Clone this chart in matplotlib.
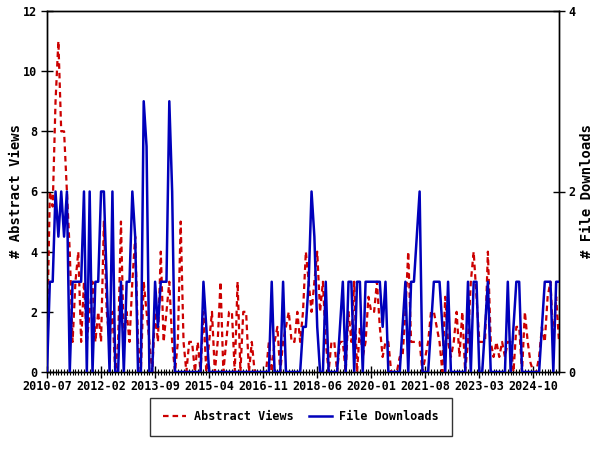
import matplotlib
matplotlib.use("Agg")
import matplotlib.pyplot as plt
from matplotlib.ticker import MultipleLocator, FixedLocator
from matplotlib.lines import Line2D

start_year, start_month = 2010, 7

abstract_views = [
    1, 6, 5.5, 9, 11, 8, 8, 6, 4, 1,
    3, 4, 1, 3, 1, 2, 3, 1, 2, 1,
    5, 2, 1, 2, 0, 1, 5, 1, 2, 1,
    3, 4.5, 1, 0, 3, 2, 1, 0, 2, 1,
    4, 1, 2, 3, 1, 0, 1, 5, 1, 0,
    1, 1, 0, 1, 0, 2, 0, 1, 2, 0,
    1, 3, 0, 1, 2, 2, 0, 3, 0, 2,
    2, 0, 1, 0, 0, 0, 0, 0, 1, 0,
    1, 1.5, 0, 1, 1.5, 2, 1, 1, 2, 1,
    2, 4, 3, 2, 3, 4, 2, 3, 1, 0,
    1, 1, 0, 1, 1, 0, 2, 1, 3, 0,
    1.5, 0.5, 1, 2.5, 2, 2, 3, 1.5, 0.5, 1,
    1, 0, 0, 0, 0.5, 0.5, 2, 4, 1, 1,
    1, 1, 0, 0.5, 1, 2, 2, 1.5, 1, 0,
    2.5, 1, 0.5, 1, 2, 0.5, 2, 0, 1, 3,
    4, 2.5, 1, 1, 1, 4, 1, 0.5, 1, 0.5,
    1, 0.5, 1, 1, 0, 1.5, 1.5, 0, 2, 1,
    0.3, 0, 0, 0.5, 1.5, 1, 2.5, 3, 1, 2.5,
    1,
]

file_downloads = [
    0, 1, 1, 2, 1.5, 2, 1.5, 2, 0, 1,
    1, 1, 1, 2, 0, 2, 0, 1, 1, 2,
    2, 1, 0, 2, 0, 0, 1, 0, 1, 1,
    2, 1.5, 0, 0, 3, 2.5, 0, 0, 1, 0.5,
    1, 1, 1, 3, 2, 0, 0, 0, 0, 0,
    0, 0, 0, 0, 0, 1, 0.5, 0, 0, 0,
    0, 0, 0, 0, 0, 0, 0, 0, 0, 0,
    0, 0, 0, 0, 0, 0, 0, 0, 0, 1,
    0, 0, 0, 1, 0, 0, 0, 0, 0, 0,
    0.5, 0.5, 1, 2, 1.5, 0.5, 0, 0, 1, 0,
    0, 0, 0, 0.5, 1, 0, 1, 1, 0, 1,
    1, 0, 1, 1, 1, 1, 1, 1, 0.5, 1,
    0, 0, 0, 0, 0, 0.5, 1, 0, 1, 1,
    1.5, 2, 0, 0, 0, 0.5, 1, 1, 1, 0.5,
    0, 1, 0, 0, 0, 0, 0, 0, 1, 0,
    1, 1, 0, 0, 0.5, 1, 0, 0, 0, 0,
    0, 0, 1, 0, 0.5, 1, 1, 0, 0, 0,
    0, 0, 0, 0, 0.5, 1, 1, 1, 0, 1,
    1,
]

tick_labels = ["2010-07", "2012-02", "2013-09", "2015-04", "2016-11",
               "2018-06", "2020-01", "2021-08", "2023-03", "2024-10"]

n = len(abstract_views)
x = list(range(n))
tick_pos = list(range(0, n, 19))[:len(tick_labels)]

FONT = "DejaVu Sans Mono"
RED = "#cc0000"
BLUE = "#0000bb"

fig = plt.figure(figsize=(6, 4.5), dpi=100)
ax = fig.add_axes([47/600, 1-372/450, (559-47)/600, (372-11)/450])
ax2 = ax.twinx()

ax.plot(x, abstract_views, color=RED, lw=1.6, ls=(0, (2.5, 1.8)), zorder=3)
ax2.plot(x, file_downloads, color=BLUE, lw=1.8, zorder=3)

ax.set_xlim(0, n - 1)
ax.set_ylim(0, 12)
ax2.set_ylim(0, 4)
ax.yaxis.set_major_locator(MultipleLocator(2))
ax2.yaxis.set_major_locator(MultipleLocator(2))
ax.xaxis.set_major_locator(FixedLocator(tick_pos))
ax.xaxis.set_minor_locator(MultipleLocator(1))
ax.set_xticklabels(tick_labels)

for a in (ax, ax2):
    for s in a.spines.values():
        s.set_linewidth(1.0)
        s.set_color("black")
    a.tick_params(which="major", direction="inout", length=8, width=1,
                  labelsize=8.5)
    a.tick_params(which="minor", direction="inout", length=4, width=0.8)
    for lab in a.get_xticklabels() + a.get_yticklabels():
        lab.set_fontfamily(FONT)
        lab.set_fontweight("bold")
ax.tick_params(axis="x", which="major", pad=2)
ax.tick_params(axis="y", which="major", pad=3)
ax2.tick_params(axis="y", which="major", pad=3)

ax.set_ylabel("# Abstract Views", fontfamily=FONT, fontsize=10,
              fontweight="bold", labelpad=0)
ax2.set_ylabel("# File Downloads", fontfamily=FONT, fontsize=10,
               fontweight="bold", labelpad=3)

handles = [Line2D([], [], color=RED, lw=1.6, ls=(0, (2.5, 1.8))),
           Line2D([], [], color=BLUE, lw=1.8)]
leg = fig.legend(handles, ["Abstract Views", "File Downloads"],
                 loc="center", bbox_to_anchor=(301/600, 1-417/450),
                 ncol=2, frameon=True, fancybox=False, edgecolor="black",
                 prop={"family": FONT, "weight": "bold", "size": 8.5},
                 handlelength=2.0, columnspacing=1.3, borderpad=1.1,
                 handletextpad=0.6, borderaxespad=0)
leg.get_frame().set_linewidth(1.0)

fig.savefig("out.png", dpi=100)
